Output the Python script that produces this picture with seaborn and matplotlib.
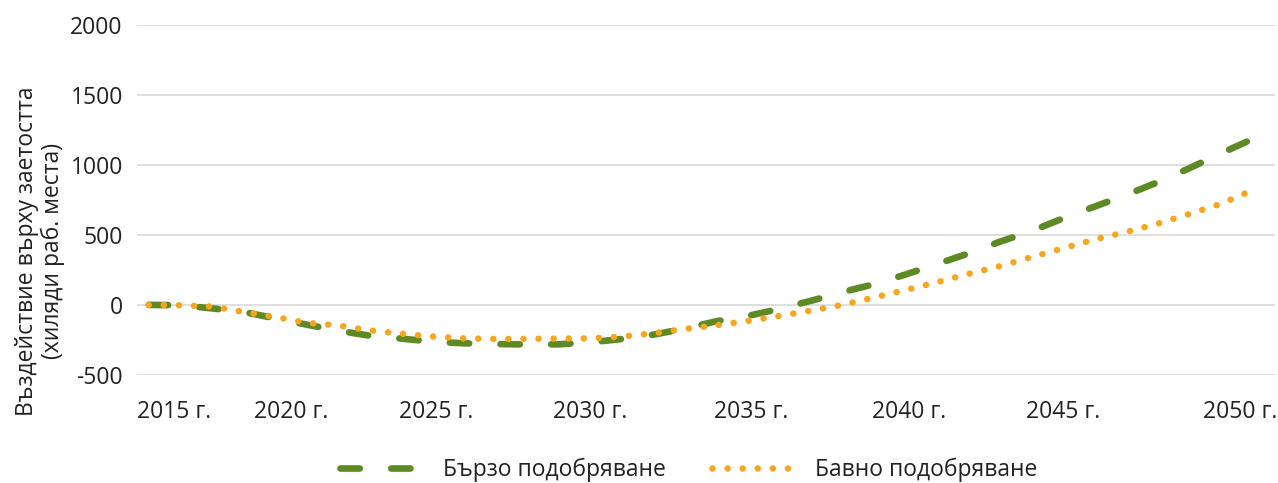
import seaborn as sns
import matplotlib.pyplot as plt
import pandas as pd

# data (thousand jobs)
years = list(range(2015, 2051))
fast = [0, -3, -25, -50, -96, -141, -184, -220, -241, -263, -275, -280,
        -283, -282, -268, -244, -213, -170, -117, -79, -29, 29, 91, 148,
        217, 292, 368, 452, 528, 619, 703, 786, 877, 977, 1083, 1185]
slow = [0, -3, -12, -50, -86, -128, -147, -182, -206, -226, -240, -244,
        -243, -241, -240, -227, -203, -172, -146, -115, -79, -41, 0, 53,
        106, 162, 222, 277, 342, 404, 468, 521, 581, 650, 722, 820]
series_names = ['Бързо подобряване', 'Бавно подобряване']
tick_labels = ['2015 г.', '2020 г.', '2025 г.', '2030 г.',
               '2035 г.', '2040 г.', '2045 г.', '2050 г.']
y_ticks = [-500, 0, 500, 1000, 1500, 2000]

df = pd.DataFrame({'year': years, 'fast': fast, 'slow': slow})

sns.set_theme(style='white')
plt.rcParams['font.family'] = ['Open Sans', 'DejaVu Sans']
text_col = '#222222'
green = '#5E8A25'
orange = '#F9A51E'
fs = 16.5

fig, ax = plt.subplots(figsize=(12.78, 4.83), dpi=100)
fig.subplots_adjust(left=0.107, right=0.998, top=0.948, bottom=0.224)

# 1. lines
sns.lineplot(data=df, x='year', y='fast', ax=ax, color=green, lw=4.8,
             linestyle=(0, (2.9, 4.7)), dash_capstyle='round',
             label=series_names[0])
sns.lineplot(data=df, x='year', y='slow', ax=ax, color=orange, lw=4.7,
             linestyle=(0, (0.01, 2.3)), dash_capstyle='round',
             label=series_names[1])

# 2. axes
ax.set_xlim(2014.62, 2050.73)
ax.set_ylim(-500, 2000)
# labels sit where the original chart put them, not exactly on the years
label_pos = [2015.8, 2019.5, 2024.1, 2029.0, 2034.1, 2039.1, 2044.0, 2049.6]
ax.set_xticks(label_pos)
ax.set_xticklabels(tick_labels, fontsize=fs, color=text_col)
ax.set_yticks(y_ticks)
ax.set_yticklabels([str(v) for v in y_ticks], fontsize=fs, color=text_col)
ax.tick_params(axis='x', length=0, pad=18)
ax.tick_params(axis='y', length=0, pad=10)
ax.set_xlabel('')
ax.set_ylabel('')
ax.yaxis.grid(True, color='#d9d9d9', lw=1.2)
ax.xaxis.grid(False)
for s in ax.spines.values():
    s.set_visible(False)

fig.text(0.031, 0.48, 'Въздействие върху заетостта\n(хиляди раб. места)',
         rotation=90, ha='center', va='center', multialignment='center',
         fontsize=fs, color=text_col, linespacing=1.1)

# 3. legend
handles, labels = ax.get_legend_handles_labels()
ax.get_legend().remove()
fig.legend(handles, labels, loc='center', bbox_to_anchor=(0.539, 0.027),
           ncol=2, frameon=False, handlelength=3.5, columnspacing=2.0,
           handletextpad=1.0, fontsize=fs, labelcolor=text_col)

fig.savefig('out.png', dpi=100)
